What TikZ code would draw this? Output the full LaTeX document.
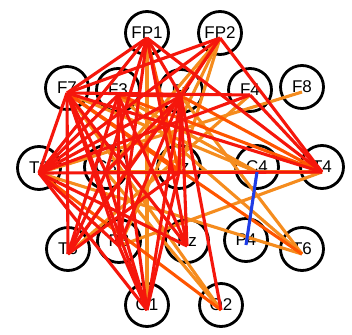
\documentclass[tikz,border=0pt]{standalone}
\usepackage{fontspec}
\setmainfont{Liberation Sans}
\begin{document}
\begin{tikzpicture}[x=1pt,y=-1pt,
  elec/.style={circle,draw=black,line width=2.8pt,minimum size=43pt,inner sep=0pt,font=\fontsize{17}{17}\selectfont},
  ered/.style={draw={rgb,255:red,245;green,22;blue,12},line width=3.1pt},
  eorr/.style={draw={rgb,255:red,255;green,85;blue,0},line width=3.1pt},
  eora/.style={draw={rgb,255:red,245;green,140;blue,30},line width=3.1pt},
  eblu/.style={draw={rgb,255:red,30;green,60;blue,230},line width=3.1pt}]
\useasboundingbox (0,0) rectangle (352,334);
\fill[white] (0,0) rectangle (352,334);
\node[elec] (FP1) at (147,33) {FP1};
\node[elec] (FP2) at (220,33) {FP2};
\node[elec] (F7) at (67,88) {F7};
\node[elec] (F3) at (118,90) {F3};
\node[elec] (Fz) at (181,91) {Fz};
\node[elec] (F4) at (250,90) {F4};
\node[elec] (F8) at (302,87) {F8};
\node[elec] (T3) at (39,168) {T3};
\node[elec] (C3) at (106,167) {C3};
\node[elec] (Cz) at (179,167) {Cz};
\node[elec] (C4) at (257,167) {C4};
\node[elec] (T4) at (322,167) {T4};
\node[elec] (T5) at (68,249) {T5};
\node[elec] (P3) at (119,241) {P3};
\node[elec] (Pz) at (187,241) {Pz};
\node[elec] (P4) at (246,240) {P4};
\node[elec] (T6) at (302,249) {T6};
\node[elec] (O1) at (147,305) {O1};
\node[elec] (O2) at (221,305) {O2};
% orange edges
\foreach \a/\b in {FP1/O1,FP2/C3,FP2/P3,FP2/Cz,F8/T3,F4/T5,T3/T6,F3/T6,F7/O2,C3/O2,Cz/T4,P3/T4,Fz/T6,C3/T4,F7/C4,F3/C4}
  \draw[eora] ([yshift=-5pt]\a.center) -- ([yshift=-5pt]\b.center);
% orange-red edges
\foreach \a/\b in {FP1/Cz,F7/T6,F3/T4,T3/O2,Fz/T4,FP2/T5,F7/Cz}
  \draw[eorr] ([yshift=-5pt]\a.center) -- ([yshift=-5pt]\b.center);
% red edges
\foreach \a/\b in {FP1/F7,FP1/T3,FP1/C3,FP1/P3,FP1/T4,FP1/Fz,FP1/Pz,FP2/F7,FP2/T3,FP2/T4,FP2/Fz,
  F7/T3,F7/T5,F7/C3,F7/P3,F7/Pz,F7/O1,F7/T4,F7/F4,
  F3/T5,F3/O1,F3/Pz,F3/T3,F3/Fz,F3/P3,
  Fz/T3,Fz/T5,Fz/P3,Fz/O2,Fz/Pz,Fz/C3,Fz/O1,Fz/Cz,
  T3/T4,T3/Pz,T3/P3,T3/O1,C3/T5,C3/O1,Cz/T5,Cz/O1,F4/T4,F4/T3,P3/O1}
  \draw[ered] ([yshift=-5pt]\a.center) -- ([yshift=-5pt]\b.center);
\draw[eblu] ([yshift=-5pt]C4.center) -- ([yshift=-5pt]P4.center);
\end{tikzpicture}
\end{document}
